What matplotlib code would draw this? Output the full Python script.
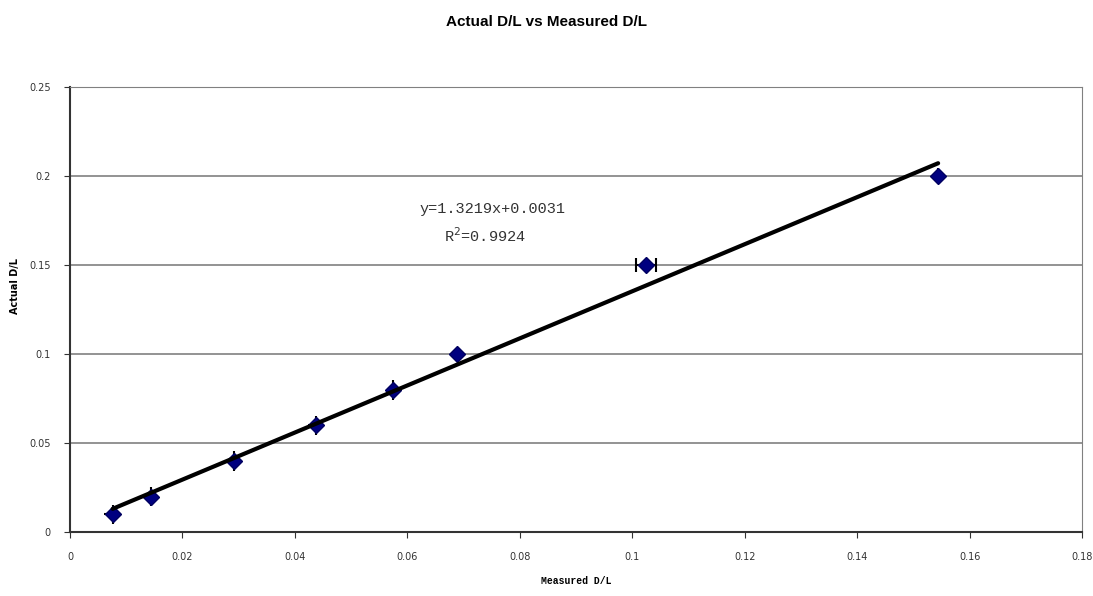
import numpy as np
import matplotlib.pyplot as plt

measured = np.array([0.0076, 0.0144, 0.0292, 0.0438, 0.0575, 0.0688, 0.1025, 0.1544])
actual = np.array([0.01, 0.02, 0.04, 0.06, 0.08, 0.10, 0.15, 0.20])
x_err = np.array([0.0015, 0.0014, 0.0014, 0.0014, 0.0012, 0.0004, 0.0018, 0.0008])
y_err = np.array([0.0055, 0.0055, 0.0055, 0.0055, 0.0055, 0.001, 0.001, 0.0045])
slope, intercept = 1.3219, 0.0031

fig = plt.figure(figsize=(10.93, 5.96), dpi=100)
ax = fig.add_axes([0.064, 0.107, 0.926, 0.747])

ax.errorbar(measured, actual, yerr=y_err, fmt="none",
            ecolor="black", elinewidth=1.5, capsize=0, zorder=2)
big = x_err > 0.0016
ax.errorbar(measured[~big], actual[~big], xerr=x_err[~big], fmt="none",
            ecolor="black", elinewidth=1.5, capsize=0, zorder=2)
ax.errorbar(measured[big], actual[big], xerr=x_err[big], fmt="none",
            ecolor="black", elinewidth=1.5, capsize=5, capthick=1.5, zorder=2)
ax.plot(measured, actual, linestyle="none", marker="D", markersize=8,
        color="#000080", markeredgecolor="#000060", zorder=3)

fit_x = np.array([measured[0], measured[-1]])
ax.plot(fit_x, slope * fit_x + intercept, color="black", linewidth=3,
        solid_capstyle="round", zorder=4)

ax.set_xlim(0, 0.18)
ax.set_ylim(0, 0.25)
ax.set_xticks(np.arange(0, 0.181, 0.02))
ax.set_xticklabels(["0", "0.02", "0.04", "0.06", "0.08", "0.1", "0.12", "0.14", "0.16", "0.18"])
ax.set_yticks([0, 0.05, 0.1, 0.15, 0.2, 0.25])
ax.set_yticklabels(["0", "0.05", "0.1", "0.15", "0.2", "0.25"])
ax.tick_params(labelsize=7, colors="#333333", direction="out", length=4, pad=10)
ax.yaxis.grid(True, color="#808080", linewidth=1.2)
ax.set_axisbelow(True)
for side in ["top", "right"]:
    ax.spines[side].set_color("#808080")
for side in ["left", "bottom"]:
    ax.spines[side].set_color("#333333")
    ax.spines[side].set_linewidth(1.5)

ax.text(0.0622, 0.1813, "y=1.3219x+0.0031", family="Liberation Mono",
        fontsize=11, color="#333333", va="center")
ax.text(0.0665, 0.1668, "R$^{2}$=0.9924", family="Liberation Mono",
        fontsize=11, color="#333333", va="center")

fig.suptitle("Actual D/L vs Measured D/L", y=0.975, fontsize=11, fontweight="bold",
             family="Liberation Sans")
ax.set_xlabel("Measured D/L", fontsize=7, fontweight="bold", family="Liberation Mono", labelpad=10)
fig.text(0.014, 0.52, "Actual D/L", rotation=90, fontsize=7, fontweight="bold",
         va="center", ha="center")

fig.savefig("out.png")
